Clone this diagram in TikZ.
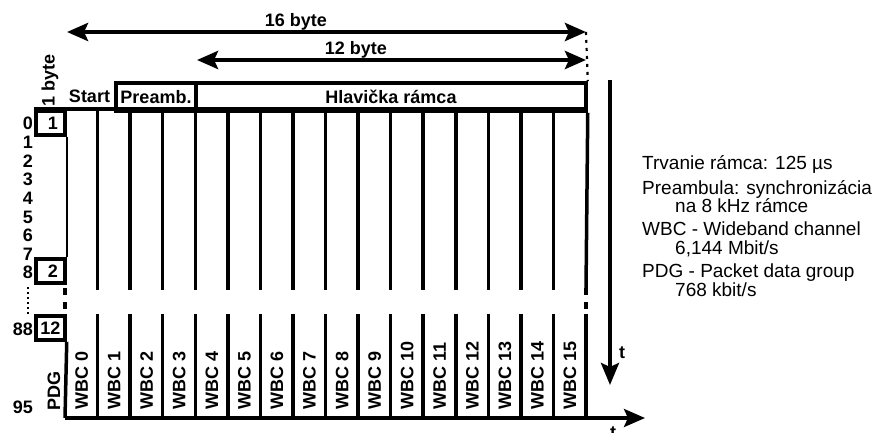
\documentclass[tikz,border=0pt]{standalone}
\usepackage{fontspec}
\setmainfont{Liberation Sans}
\usetikzlibrary{arrows.meta}
\begin{document}
\begin{tikzpicture}[x=1pt,y=-1pt,
  lbl/.style={font=\fontsize{18}{18}\selectfont\bfseries, inner sep=0pt},
  note/.style={font=\fontsize{19}{19}\selectfont, inner sep=0pt, anchor=base west},
  thick line/.style={line width=3.5pt},
  bytebox/.style={draw, line width=3.5pt, minimum width=29pt, inner sep=0pt,
    font=\fontsize{18}{18}\selectfont\bfseries, text depth=0pt},
  hdrbox/.style={draw, line width=3.5pt, minimum height=28pt, inner sep=0pt,
    font=\fontsize{18}{18}\selectfont\bfseries, text depth=0pt},
  chan/.style={lbl, rotate=90, anchor=base west},
  dimarrow/.style={line width=4.5pt, {Stealth[length=21pt,width=18pt,inset=4pt]}-{Stealth[length=21pt,width=18pt,inset=4pt]}},
  timearrow/.style={line width=3.5pt, -{Stealth[length=21pt,width=18pt,inset=4pt]}},
  gapdash/.style={line width=3.5pt, dash pattern=on 7pt off 7pt},
  fine dots/.style={line width=2.2pt, dash pattern=on 2pt off 3pt},
]
\useasboundingbox (0,0) rectangle (876,433);
\clip (0,0) rectangle (876,433);

% ---- byte boxes on the left edge
\node[bytebox, minimum height=24pt] (b1)  at (50.5,123) {\hspace*{5pt}1};
\node[bytebox, minimum height=24pt] (b2)  at (50.5,271) {\hspace*{5pt}2};
\node[bytebox, minimum height=24pt] (b12) at (50.5,328) {12};

% ---- header boxes
\node[hdrbox, minimum width=80pt]  (pre)  at (156,97) {Preamb.};
\node[hdrbox, minimum width=390pt] (hlav) at (391,97) {Hlavička rámca};
\node[lbl, text depth=0pt] (start) at (89.5,96) {Start};
\node[lbl, rotate=90] (onebyte) at (50,80) {1 byte};

% ---- column positions
\foreach \i in {0,...,16}
  \coordinate (c\i) at ({65+32.5625*\i},0);

% top edge of the frame
\draw[thick line] (b1.north west) -- (b1.north west -| hlav.south east);

% column separators, upper block
\draw[line width=2.2pt] (b1.south east) -- (b2.north east);
\foreach \i in {1,...,15}
  \draw[thick line] (c\i |- b1.north) -- ([yshift=-5pt]c\i |- b2.south);
\draw[thick line] (hlav.south east) -- ([yshift=-5pt]c16 |- b2.south);

% interrupted part of the frame
\draw[gapdash] (65,288) -- (65,314);
\draw[gapdash] (586,288) -- (586,312);
\draw[fine dots] (28,287) -- (28,314);

% column separators, lower block
\coordinate (bl) at (65,418);
\coordinate (br) at (645,418);
\draw[thick line] (b12.south east) -- (bl);
\foreach \i in {1,...,16}
  \draw[thick line] (c\i |- b12.north) -- (c\i |- bl);
\draw[timearrow] (bl) -- (br);

% byte counters
\foreach \n in {0,...,8}
  \node[lbl, anchor=base east] (row\n) at (33,{130+18.6*\n}) {\n};
\node[lbl, anchor=base east] (row88) at (33,335) {88};
\node[lbl, anchor=base east] (row95) at (33,413) {95};

% channel labels
\node[chan] (pdg) at (60,411) {PDG};
\foreach \i in {0,...,15}
  \node[chan] (wbc\i) at ({65+32.5625*(\i+0.5)+6.5},410) {WBC \i};

% length arrows
\coordinate (a16l) at (67,32);
\coordinate (a16r) at (586,32);
\coordinate (a12l) at (197,60);
\coordinate (a12r) at (586,60);
\draw[dimarrow] (a16l) -- (a16r);
\draw[dimarrow] (a12l) -- (a12r);
\node[lbl, anchor=base] (l16) at (296,27) {16 byte};
\node[lbl, anchor=base] (l12) at (356,55) {12 byte};
\draw[fine dots, dash pattern=on 3pt off 5pt] (a16r) -- (hlav.north east);

% time arrows
\coordinate (tt) at (610,80);
\coordinate (tb) at (610,385);
\draw[line width=3.8pt, -{Stealth[length=22pt,width=18pt,inset=4pt]}] (tt) -- (tb);
\node[lbl, anchor=base] (tv) at (622,358) {t};
\node[lbl, anchor=base] (th) at (613,438) {t};

% notes
\node[note] (n1) at (642,170) {Trvanie rámca: 125 µs};
\node[note] (n2) at (642,194) {Preambula: synchronizácia};
\node[note] (n3) at (675,212) {na 8 kHz rámce};
\node[note] (n4) at (642,235) {WBC - Wideband channel};
\node[note] (n5) at (675,254) {6,144 Mbit/s};
\node[note] (n6) at (642,277) {PDG - Packet data group};
\node[note] (n7) at (675,296) {768 kbit/s};
\end{tikzpicture}
\end{document}
